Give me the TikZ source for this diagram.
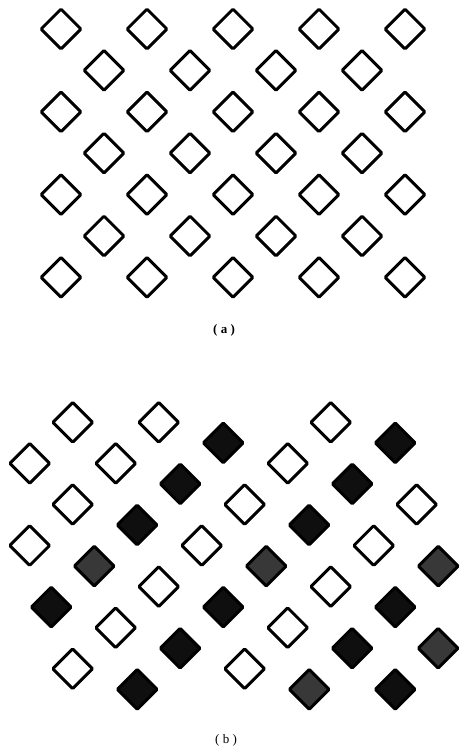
\documentclass[tikz,border=0pt]{standalone}
\usepackage{fontspec}
\setmainfont{Liberation Serif}
\usetikzlibrary{shapes.geometric}
\tikzset{
  cell/.style={shape=diamond, draw=black, line width=3pt, rounded corners=1pt,
    minimum width=41pt, minimum height=41pt, inner sep=0pt},
  emptycell/.style={cell, fill=white},
  darkcell/.style={cell, fill=black!94},
  greycell/.style={cell, fill=black!78},
  caption/.style={font=\fontsize{13}{15}\selectfont},
}

\begin{document}
\begin{tikzpicture}[x=1pt, y=-1pt]
  \useasboundingbox (0,0) rectangle (461,748);
  % (a): regular lattice
  \foreach \r in {0,2,4,6}
    \foreach \k in {0,...,4}
      \node[emptycell] (a-\r-\k) at ({61+86*\k},{29+41.4*\r}) {};
  \foreach \r in {1,3,5}
    \foreach \k in {0,...,3}
      \node[emptycell] (a-\r-\k) at ({104+86*\k},{29+41.4*\r}) {};
  \node[caption] (capa) at (224,330) {\bfseries( a )};
  % (b): grid index i/j and kind of cell
  \foreach \i/\j/\kind in {2/0/emptycell, 6/0/emptycell, 14/0/emptycell,
      9/1/darkcell, 17/1/darkcell,
      0/2/emptycell, 4/2/emptycell, 12/2/emptycell,
      7/3/darkcell, 15/3/darkcell,
      2/4/emptycell, 10/4/emptycell, 18/4/emptycell,
      5/5/darkcell, 13/5/darkcell,
      0/6/emptycell, 8/6/emptycell, 16/6/emptycell,
      3/7/greycell, 11/7/greycell, 19/7/greycell,
      6/8/emptycell, 14/8/emptycell,
      1/9/darkcell, 9/9/darkcell, 17/9/darkcell,
      4/10/emptycell, 12/10/emptycell,
      7/11/darkcell, 15/11/darkcell, 19/11/greycell,
      2/12/emptycell, 10/12/emptycell,
      5/13/darkcell, 13/13/greycell, 17/13/darkcell}
    \node[\kind] (b-\i-\j) at ({29.7+21.5*\i},{422.3+20.54*\j}) {};
  \node[caption] (capb) at (226,740) {( b )};
\end{tikzpicture}
\end{document}
